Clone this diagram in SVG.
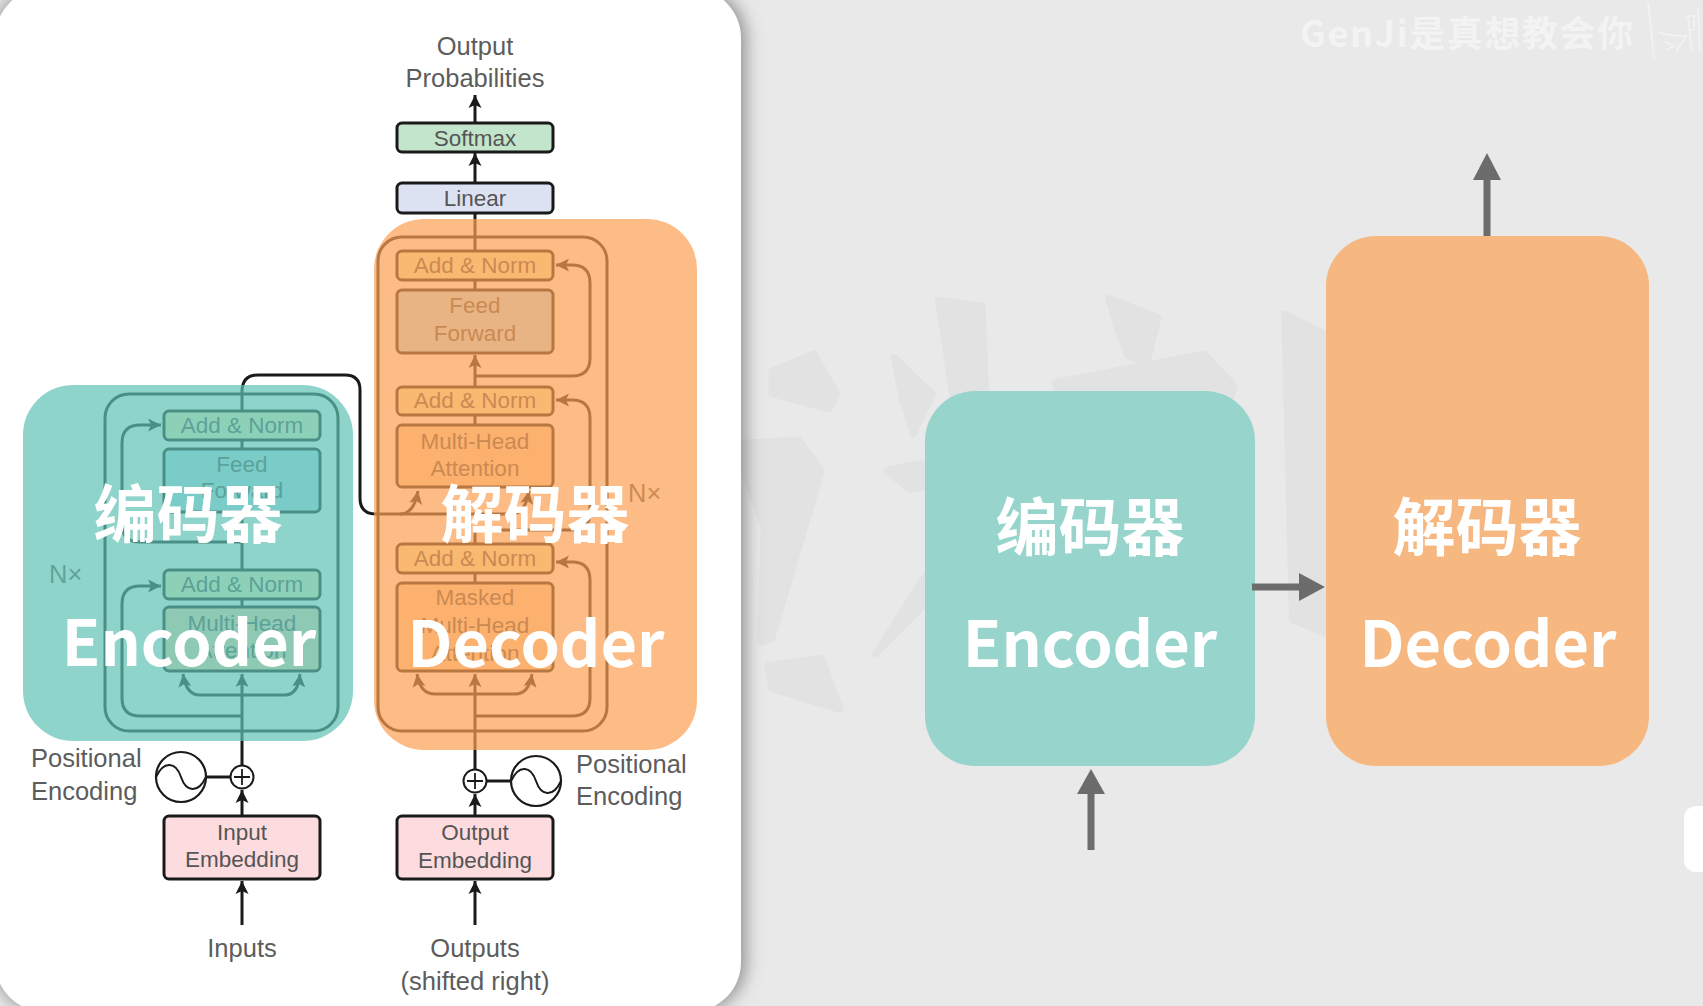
<svg xmlns="http://www.w3.org/2000/svg" width="1703" height="1006" viewBox="0 0 1703 1006">
<style>
.box{stroke:#1a1a1a;stroke-width:3}
.ln{fill:none;stroke:#1a1a1a;stroke-width:3}
.t{font-family:"Liberation Sans",Arial,sans-serif;font-size:22.5px;fill:#555;text-anchor:middle}
.o{font-family:"Liberation Sans",Arial,sans-serif;font-size:25.5px;fill:#5c5c5c}
.m{text-anchor:middle}
.big{font-family:"Noto Sans CJK SC","Noto Sans",sans-serif;font-weight:700;fill:#fff;text-anchor:middle}
.cn{font-size:63px}
.en{font-size:63px}
.wm path{fill:#000;stroke:#000;stroke-width:18;stroke-linejoin:round}
</style>
<defs>
<marker id="a" markerUnits="userSpaceOnUse" markerWidth="14" markerHeight="16" refX="13" refY="7" orient="auto"><path d="M0,0.5 L13,7 L0,13.5 L3,7 Z" fill="#1a1a1a"/></marker>
<filter id="sh" x="-5%" y="-5%" width="115%" height="110%"><feGaussianBlur stdDeviation="9"/></filter>
<filter id="soft"><feGaussianBlur stdDeviation="2"/></filter>
</defs>
<rect width="1703" height="1006" fill="#e9e9e9"/>
<rect x="-5" y="-12" width="750" height="1024" rx="50" fill="#8a8a8a" filter="url(#sh)"/>

<g class="wm" filter="url(#soft)" opacity=".022" transform="translate(745,260) scale(.3827)">
<path d="M505,105L620,120L630,370L640,600L620,560L550,400Z"/>
<path d="M390,255L490,350L440,455L410,360Z"/>
<path d="M950,100L1080,150L1050,270L1000,250L970,170Z"/>
<path d="M810,320L1200,245L1280,330L1260,380L830,390Z"/>
<path d="M70,290L180,245L240,350L220,390L70,350Z"/>
<path d="M-30,480L140,470L200,550L70,990L40,1000L50,700Z"/>
<path d="M370,550L560,510L630,560L430,600Z"/>
<path d="M340,1030L500,780L630,610L610,760Z"/>
<path d="M60,1060L200,1040L250,1175L70,1120Z"/>
<path d="M1410,140L1510,190L1590,400L1550,990L1430,940Z"/>
</g>

<rect id="panel" x="-5" y="-12" width="746" height="1024" rx="50" fill="#fff"/>

<g id="connectors">
<path class="ln" d="M242,925V881" marker-end="url(#a)"/>
<path class="ln" d="M242,816V790" marker-end="url(#a)"/>
<path class="ln" d="M242,766V674" marker-end="url(#a)"/>
<path class="ln" d="M242,695H200Q186,695 183,674" marker-end="url(#a)"/>
<path class="ln" d="M242,695H285Q298,695 300,674" marker-end="url(#a)"/>
<path class="ln" d="M242,716H140Q122,716 122,698V604Q122,586 140,586H161" marker-end="url(#a)"/>
<path class="ln" d="M242,542H140Q122,542 122,524V443Q122,425 140,425H161" marker-end="url(#a)"/>
<path class="ln" d="M242,607V599M242,570V512M242,449V440"/>
<path class="ln" d="M242,411V392Q242,375 258,375H345Q360,375 360,390V498Q360,514 376,514H400Q414,514 418,491" marker-end="url(#a)"/>
<path class="ln" d="M400,514H512Q525,514 529,491" marker-end="url(#a)"/>
<path class="ln" d="M475,925V881" marker-end="url(#a)"/>
<path class="ln" d="M475,816V794" marker-end="url(#a)"/>
<path class="ln" d="M475,770V674" marker-end="url(#a)"/>
<path class="ln" d="M475,694H435Q420,694 417,674" marker-end="url(#a)"/>
<path class="ln" d="M475,694H515Q529,694 532,674" marker-end="url(#a)"/>
<path class="ln" d="M475,716H572Q590,716 590,698V580Q590,562 572,562H556" marker-end="url(#a)"/>
<path class="ln" d="M475,530H572Q590,530 590,512V418Q590,400 572,400H556" marker-end="url(#a)"/>
<path class="ln" d="M475,376H572Q590,376 590,358V283Q590,265 572,265H556" marker-end="url(#a)"/>
<path class="ln" d="M475,583V573M475,544V530M475,425V415M475,387V355" marker-end="url(#a)"/>
<path class="ln" d="M475,290V280M475,251V214"/>
<path class="ln" d="M475,183V153" marker-end="url(#a)"/>
<path class="ln" d="M475,123V95" marker-end="url(#a)"/>
<path class="ln" d="M205,777H231"/>
<path class="ln" d="M486,781H512"/>
<rect x="105" y="394" width="233" height="337" rx="24" class="ln"/>
<rect x="378" y="237" width="229" height="494" rx="24" class="ln"/>
</g>

<g id="enc-add-norm-2"><rect class="box" x="164" y="411" width="156" height="29" rx="5" fill="#f4f4bc"/><text class="t" x="242" y="433">Add &amp; Norm</text></g>
<g id="enc-feed-forward"><rect class="box" x="164" y="449" width="156" height="63" rx="5" fill="#b8e4f8"/><text class="t" x="242" y="472">Feed</text><text class="t" x="242" y="498">Forward</text></g>
<g id="enc-add-norm-1"><rect class="box" x="164" y="570" width="156" height="29" rx="5" fill="#f4f4bc"/><text class="t" x="242" y="592">Add &amp; Norm</text></g>
<g id="enc-attention"><rect class="box" x="164" y="607" width="156" height="64" rx="5" fill="#fcd9b1"/><text class="t" x="242" y="631">Multi-Head</text><text class="t" x="242" y="658">Attention</text></g>
<g id="input-embedding"><rect class="box" x="164" y="816" width="156" height="63" rx="5" fill="#fcdcdf"/><text class="t" x="242" y="840">Input</text><text class="t" x="242" y="867">Embedding</text></g>
<g id="enc-pe"><circle cx="242" cy="777" r="11.5" fill="#fff" stroke="#1a1a1a" stroke-width="2"/><path d="M242,769V785M234,777H250" stroke="#1a1a1a" stroke-width="1.8"/><circle cx="181" cy="777" r="25" fill="#fff" stroke="#1a1a1a" stroke-width="2.2"/><path class="ln" style="stroke-width:2" d="M156,777C164,760 176,762 181,777S198,794 206,777"/><text class="o" x="31" y="767">Positional</text><text class="o" x="31" y="800">Encoding</text></g>

<g id="dec-add-norm-3"><rect class="box" x="397" y="251" width="156" height="29" rx="5" fill="#f4f4bc"/><text class="t" x="475" y="273">Add &amp; Norm</text></g>
<g id="dec-feed-forward"><rect class="box" x="397" y="290" width="156" height="63" rx="5" fill="#b8e4f8"/><text class="t" x="475" y="313">Feed</text><text class="t" x="475" y="341">Forward</text></g>
<g id="dec-add-norm-2"><rect class="box" x="397" y="387" width="156" height="28" rx="5" fill="#f4f4bc"/><text class="t" x="475" y="408">Add &amp; Norm</text></g>
<g id="dec-attention"><rect class="box" x="397" y="425" width="156" height="62" rx="5" fill="#fcd9b1"/><text class="t" x="475" y="449">Multi-Head</text><text class="t" x="475" y="476">Attention</text></g>
<g id="dec-add-norm-1"><rect class="box" x="397" y="544" width="156" height="29" rx="5" fill="#f4f4bc"/><text class="t" x="475" y="566">Add &amp; Norm</text></g>
<g id="dec-masked"><rect class="box" x="397" y="583" width="156" height="88" rx="5" fill="#fcd9b1"/><text class="t" x="475" y="605">Masked</text><text class="t" x="475" y="633">Multi-Head</text><text class="t" x="475" y="661">Attention</text></g>
<g id="output-embedding"><rect class="box" x="397" y="816" width="156" height="63" rx="5" fill="#fcdcdf"/><text class="t" x="475" y="840">Output</text><text class="t" x="475" y="868">Embedding</text></g>
<g id="dec-pe"><circle cx="475" cy="781" r="11.5" fill="#fff" stroke="#1a1a1a" stroke-width="2"/><path d="M475,773V789M467,781H483" stroke="#1a1a1a" stroke-width="1.8"/><circle cx="536" cy="781" r="25" fill="#fff" stroke="#1a1a1a" stroke-width="2.2"/><path class="ln" style="stroke-width:2" d="M511,781C519,764 531,766 536,781S553,798 561,781"/><text class="o" x="576" y="773">Positional</text><text class="o" x="576" y="805">Encoding</text></g>
<g id="linear"><rect class="box" x="397" y="183" width="156" height="30" rx="5" fill="#dde2f3"/><text class="t" x="475" y="206">Linear</text></g>
<g id="softmax"><rect class="box" x="397" y="123" width="156" height="29" rx="5" fill="#c3e5cb"/><text class="t" x="475" y="146">Softmax</text></g>
<g id="labels">
<text class="o m" x="475" y="55">Output</text><text class="o m" x="475" y="87">Probabilities</text>
<text class="o m" x="242" y="957">Inputs</text>
<text class="o m" x="475" y="957">Outputs</text><text class="o m" x="475" y="990">(shifted right)</text>
<text class="o" x="49" y="583">N×</text><text class="o" x="628" y="502">N×</text>
</g>

<rect id="encoder-overlay" x="23" y="385" width="330" height="356" rx="50" fill="#5fc2b5" opacity=".7"/>
<rect id="decoder-overlay" x="374" y="219" width="323" height="531" rx="50" fill="#fca051" opacity=".7"/>

<g id="encoder"><rect x="925" y="391" width="330" height="375" rx="50" fill="#97d5cc"/></g>
<g id="decoder"><rect x="1326" y="236" width="323" height="530" rx="50" fill="#f6b880"/></g>

<g id="arrows">
<path d="M1252,587H1300" stroke="#6c6c6c" stroke-width="7" fill="none"/><path d="M1299,573L1325,587L1299,601Z" fill="#6c6c6c"/>
<path d="M1091,850V792" stroke="#6c6c6c" stroke-width="7" fill="none"/><path d="M1077,794L1091,769L1105,794Z" fill="#6c6c6c"/>
<path d="M1487,236V178" stroke="#6c6c6c" stroke-width="7" fill="none"/><path d="M1473,180L1487,153L1501,180Z" fill="#6c6c6c"/>
</g>

<g id="big-labels">
<text class="big cn" x="188" y="537">编码器</text>
<text class="big en" x="189" y="666">Encoder</text>
<text class="big cn" x="535" y="537">解码器</text>
<text class="big en" x="536" y="667">Decoder</text>
<text class="big cn" x="1090" y="550">编码器</text>
<text class="big en" x="1090" y="667">Encoder</text>
<text class="big cn" x="1487" y="550">解码器</text>
<text class="big en" x="1488" y="667">Decoder</text>
</g>

<text id="watermark" x="1300" y="47" font-family="'Noto Sans CJK SC','Noto Sans',sans-serif" font-weight="700" font-size="36" letter-spacing="1.6" fill="#f3f3f3">GenJi是真想教会你</text>
<g id="logo" fill="none" stroke="#f3f3f3" stroke-width="1.5"><path d="M1648,2L1654,58M1658,32Q1668,36 1686,36L1676,52M1665,42L1674,46L1666,50"/><path d="M1688,16L1692,52M1698,8L1700,52M1686,16H1694V30H1688"/></g>
<rect id="side-tab" x="1684" y="806" width="40" height="66" rx="12" fill="#fff"/>
</svg>
